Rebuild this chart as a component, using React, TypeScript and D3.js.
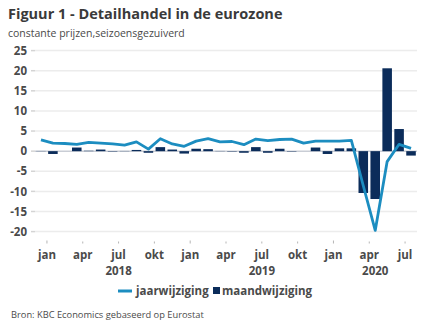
import React from "react";
import * as d3 from "d3";

const months: string[] = [
  "2017-12",
  "2018-01","2018-02","2018-03","2018-04","2018-05","2018-06","2018-07","2018-08","2018-09","2018-10","2018-11","2018-12",
  "2019-01","2019-02","2019-03","2019-04","2019-05","2019-06","2019-07","2019-08","2019-09","2019-10","2019-11","2019-12",
  "2020-01","2020-02","2020-03","2020-04","2020-05","2020-06","2020-07",
];
const jaarwijziging: number[] = [
  2.8, 2.0, 1.9, 1.7, 2.2, 2.0, 1.8, 1.5, 2.3, 0.5, 3.1, 1.8, 1.2,
  2.5, 3.1, 2.3, 2.4, 1.6, 3.0, 2.6, 2.9, 3.0, 2.0, 2.5, 2.5,
  2.5, 2.7, -8.6, -19.7, -2.6, 1.7, 0.7,
];
const maandwijziging: number[] = [
  0.05, -0.7, 0.0, 0.9, 0.1, 0.4, -0.1, 0.05, 0.3, -0.4, 1.0, 0.4, -0.6,
  0.6, 0.5, 0.05, -0.1, -0.4, 1.0, -0.4, 0.6, -0.1, 0.0, 0.9, -0.7,
  0.7, 0.7, -10.4, -11.9, 20.6, 5.5, -1.1,
];
const yTicks: number[] = [25, 20, 15, 10, 5, 0, -5, -10, -15, -20];
const monthLabels: Record<string, string> = { "01": "jan", "04": "apr", "07": "jul", "10": "okt" };
const years: string[] = ["2018", "2019", "2020"];

const FONT = "'Open Sans', 'Noto Sans', sans-serif";
const LINE = "#1c8dc0";
const BAR = "#0b2c5a";
const TXT = "#4a4a4a";

export default function App() {
  const W = 432, H = 334;
  const x = d3.scaleBand<string>().domain(months).range([35, 417]).padding(0);
  const step = x.step();
  const bw = step * 0.8;
  const y = d3.scaleLinear().domain([-20, 25]).range([231.6, 50.6]);
  const cx = (m: string) => (x(m) as number) + step / 2;

  const line = d3
    .line<number>()
    .x((_, i) => cx(months[i]))
    .y((d) => y(d));

  const tickMonths = months.filter((m) => monthLabels[m.slice(5)]);

  return (
    <svg width={W} height={H} style={{ position: "absolute", left: 0, top: 0, background: "#fff" }} fontFamily={FONT}>
      <text x={8} y={19} fontSize={14.5} fontWeight={700} fill="#3a3a3a">Figuur 1 - Detailhandel in de eurozone</text>
      <text x={8} y={37} fontSize={10.5} fill={TXT}>constante prijzen,seizoensgezuiverd</text>

      {yTicks.map((t) => (
        <g key={t}>
          <line x1={35} x2={417} y1={y(t)} y2={y(t)} stroke={t === 0 ? "#c9cdd5" : "#ececec"} strokeWidth={1.5} />
          <line x1={31} x2={35} y1={y(t)} y2={y(t)} stroke="#d4d4d4" strokeWidth={1.5} />
          <text x={27} y={y(t)} dy="0.36em" textAnchor="end" fontSize={11.5} fontWeight={700} fill={TXT}>{t}</text>
        </g>
      ))}

      {months.map((m, i) => {
        const v = maandwijziging[i];
        return (
          <rect key={m} x={cx(m) - bw / 2} width={bw} y={Math.min(y(v), y(0))} height={Math.abs(y(v) - y(0))} fill={BAR} />
        );
      })}

      <path d={line(jaarwijziging) || ""} fill="none" stroke={LINE} strokeWidth={2.8} strokeLinejoin="round" />

      {tickMonths.map((m) => {
        const xx = x(m) as number;
        const isJan = m.endsWith("-01");
        return (
          <g key={m}>
            <line x1={xx} x2={xx} y1={isJan ? 240.5 : 241.5} y2={243.5} stroke="#b5b5b5" strokeWidth={1} />
            <text x={xx} y={259} textAnchor="middle" fontSize={11.5} fontWeight={700} fill={TXT}>{monthLabels[m.slice(5)]}</text>
          </g>
        );
      })}

      {years.map((yr) => {
        const ms = months.filter((m) => m.startsWith(yr));
        const x0 = x(ms[0]) as number;
        const x1 = (x(ms[ms.length - 1]) as number) + step;
        return (
          <text key={yr} x={(x0 + x1) / 2} y={275} textAnchor="middle" fontSize={11.5} fontWeight={700} fill={TXT}>{yr}</text>
        );
      })}

      <line x1={118} x2={132} y1={291} y2={291} stroke={LINE} strokeWidth={3} />
      <text x={136} y={295} fontSize={11.5} fontWeight={700} fill={TXT}>jaarwijziging</text>
      <rect x={213} y={287} width={7} height={7} fill={BAR} />
      <text x={222} y={295} fontSize={11.5} fontWeight={700} fill={TXT}>maandwijziging</text>

      <text x={11} y={318} fontSize={9.3} fill={TXT}>Bron: KBC Economics gebaseerd op Eurostat</text>
    </svg>
  );
}
